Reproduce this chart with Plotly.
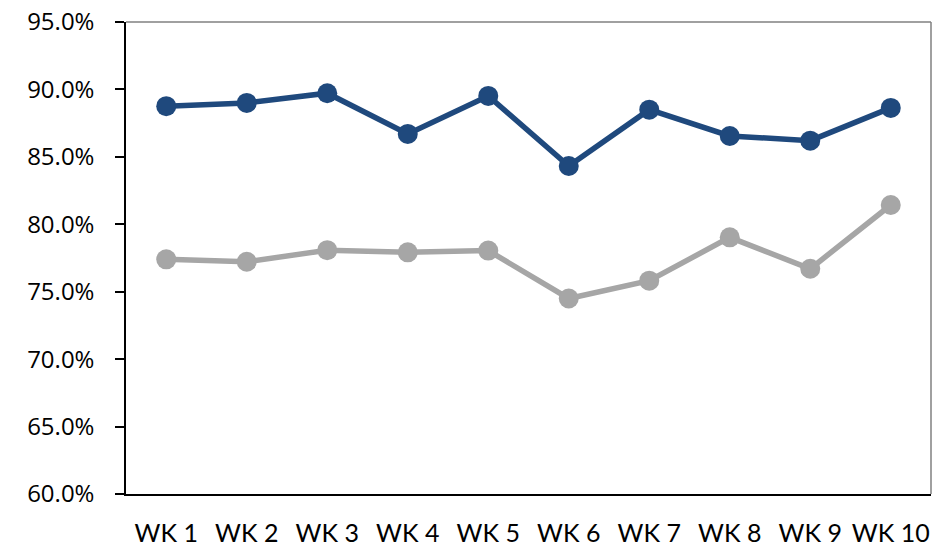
import plotly.graph_objects as go

weeks = ["WK 1", "WK 2", "WK 3", "WK 4", "WK 5", "WK 6", "WK 7", "WK 8", "WK 9", "WK 10"]
series_blue = [0.8876, 0.8900, 0.8972, 0.8670, 0.8952, 0.8432, 0.8850, 0.8655, 0.8620, 0.8863]
series_gray = [0.7740, 0.7722, 0.7808, 0.7792, 0.7805, 0.7450, 0.7582, 0.7903, 0.7670, 0.8143]
y_ticks = [0.60, 0.65, 0.70, 0.75, 0.80, 0.85, 0.90, 0.95]

fig = go.Figure()
fig.add_trace(go.Scatter(x=weeks, y=series_gray, mode="lines+markers",
                         line=dict(color="#A6A6A6", width=5.5),
                         marker=dict(size=20, color="#A6A6A6"), showlegend=False))
fig.add_trace(go.Scatter(x=weeks, y=series_blue, mode="lines+markers",
                         line=dict(color="#1F497D", width=5.5),
                         marker=dict(size=20, color="#1F497D"), showlegend=False))

fig.update_layout(
    width=939, height=548,
    margin=dict(l=126, r=8, t=22, b=54),
    paper_bgcolor="white", plot_bgcolor="white",
    font=dict(family="Open Sans, sans-serif", color="black"),
    xaxis=dict(type="category", range=[-0.5, 9.5], showline=True, linecolor="black",
               linewidth=1.5, ticks="", showgrid=False, ticklabelstandoff=16,
               automargin=False,
               tickfont=dict(family="Lato, Carlito, sans-serif", size=25)),
    yaxis=dict(range=[0.60, 0.95], tickvals=y_ticks, tickformat=".1%", showline=True,
               linecolor="black", linewidth=1.5, ticks="outside", ticklen=9,
               tickcolor="black", tickwidth=1.5, showgrid=False, zeroline=False,
               automargin=False, ticklabelstandoff=16,
               tickfont=dict(family="Open Sans, sans-serif", size=24)),
    shapes=[
        dict(type="line", xref="paper", yref="paper", x0=0, x1=1, y0=1, y1=1,
             line=dict(color="#808080", width=1.5)),
        dict(type="line", xref="paper", yref="paper", x0=1, x1=1, y0=0, y1=1,
             line=dict(color="#808080", width=1.5)),
    ],
)

fig.write_html("out.html", config={"displayModeBar": False},
               post_script="document.body.style.margin='0';")
